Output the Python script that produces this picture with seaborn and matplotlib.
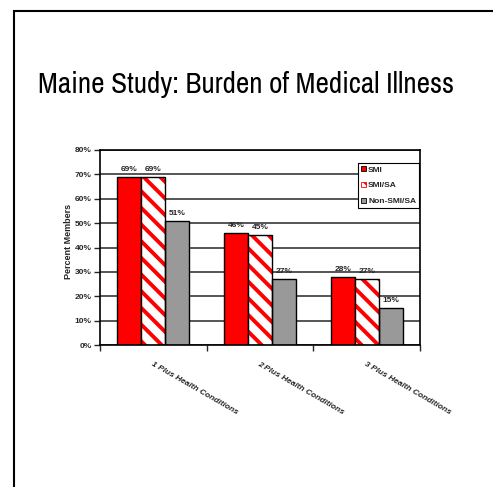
import pandas as pd
import matplotlib
matplotlib.use("Agg")
import matplotlib.pyplot as plt
from matplotlib.patches import Patch, Rectangle
import seaborn as sns

# Dados do gráfico
categorias = ['1 Plus Health Conditions', '2 Plus Health Conditions', '3 Plus Health Conditions']
grupos = ['SMI', 'SMI/SA', 'Non-SMI/SA']
smi = [69, 46, 28]
smi_sa = [69, 45, 27]
non_smi_sa = [51, 27, 15]
yticks = [0, 10, 20, 30, 40, 50, 60, 70, 80]

df = pd.DataFrame({
    'Categoria': categorias * 3,
    'Grupo': [g for g in grupos for _ in categorias],
    'Valor': smi + smi_sa + non_smi_sa,
})

sns.set_theme(style='white')
fam = ['Liberation Sans', 'DejaVu Sans']
plt.rcParams['font.family'] = fam
plt.rcParams['hatch.linewidth'] = 2.8

fig = plt.figure(figsize=(4.93, 4.87), dpi=100)
ax = fig.add_axes([100 / 493, 1 - 345 / 487, 320 / 493, 195 / 487])

cores = {'SMI': '#ff0000', 'SMI/SA': '#ffffff', 'Non-SMI/SA': '#999999'}
sns.barplot(data=df, x='Categoria', y='Valor', hue='Grupo', hue_order=grupos,
            palette=cores, width=0.675, gap=0, edgecolor='black', linewidth=1,
            saturation=1, legend=False, ax=ax)

# barras hachuradas (SMI/SA)
for p in ax.containers[1]:
    p.set_facecolor('white')
    p.set_edgecolor('#ff0000')
    p.set_hatch('\\\\')
    p.set_linewidth(0)
    ax.add_patch(Rectangle(p.get_xy(), p.get_width(), p.get_height(),
                           fill=False, edgecolor='black', linewidth=1, zorder=p.get_zorder() + 0.1))

for cont, vals in zip(ax.containers, [smi, smi_sa, non_smi_sa]):
    ax.bar_label(cont, labels=[f'{v}%' for v in vals], padding=3,
                 fontsize=6, fontweight='bold', family=fam)

ax.set_ylim(0, 80)
ax.set_xlim(-0.5, 2.5)
ax.set_yticks(yticks)
ax.set_yticklabels([f'{v}%' for v in yticks], fontsize=6, fontweight='bold')
ax.tick_params(axis='y', length=4, width=1, direction='out', left=True, pad=2)
ax.set_xticks(range(len(categorias)))
ax.set_xticklabels(categorias, rotation=-30, ha='left', va='top', rotation_mode='anchor',
                   fontsize=6, fontweight='bold', fontstyle='italic')
ax.tick_params(axis='x', which='major', length=0, pad=11)
ax.set_xticks([-0.5, 0.5, 1.5, 2.5], minor=True)
ax.tick_params(axis='x', which='minor', length=4, width=1, direction='out', bottom=True)

ax.yaxis.grid(True, color='#555555', linewidth=1.4)
ax.set_axisbelow(True)
for s in ax.spines.values():
    s.set_color('black')
    s.set_linewidth(1.2)

ax.set_xlabel('')
ax.set_ylabel('Percent Members', fontsize=6.5, fontweight='bold')
ax.yaxis.set_label_coords(-0.085, 0.53)

handles = [Patch(facecolor='#ff0000', edgecolor='black', linewidth=0.6),
           Patch(facecolor='white', edgecolor='#ff0000', hatch='\\\\', linewidth=0.6),
           Patch(facecolor='#999999', edgecolor='black', linewidth=0.6)]
leg = ax.legend(handles, grupos, loc='upper right', bbox_to_anchor=(0.997, 0.933),
                borderaxespad=0, fancybox=False, frameon=True, handlelength=0.6,
                handleheight=0.6, handletextpad=0.25, labelspacing=1.0,
                borderpad=0.35, prop={'size': 6, 'weight': 'bold', 'family': fam})
leg.get_frame().set_edgecolor('black')
leg.get_frame().set_linewidth(0.8)
leg.get_frame().set_alpha(1)

fig.text(0.5, 1 - 85 / 487, 'Maine Study: Burden of Medical Illness',
         ha='center', va='center', fontsize=21, color='black',
         family=['Archivo Narrow', 'Liberation Sans'])

fig.add_artist(Rectangle((14 / 493, -0.1), 1.2, 1.1 - 11 / 487, transform=fig.transFigure,
                         fill=False, edgecolor='black', linewidth=1.5))

fig.savefig('out.png', dpi=100)
